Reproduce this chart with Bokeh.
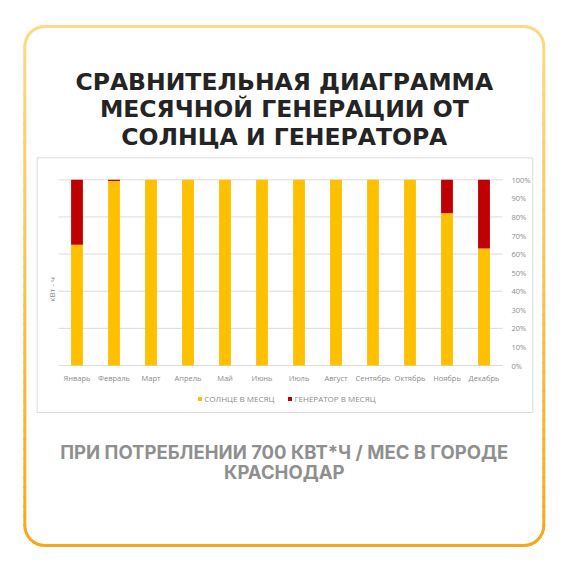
import numpy as np
from bokeh.plotting import figure
from bokeh.models import Range1d, Legend, LegendItem, ColumnDataSource
from bokeh.core.properties import value
from bokeh.embed import file_html
from bokeh.resources import INLINE

# monthly share of consumption (700 kWh / month), percent
months = ["Январь", "Февраль", "Март", "Апрель", "Май", "Июнь",
          "Июль", "Август", "Сентябрь", "Октябрь", "Ноябрь", "Декабрь"]
sun = [65, 99.4, 100, 100, 100, 100, 100, 100, 100, 100, 82, 63]
gen = [35, 0.6, 0, 0, 0, 0, 0, 0, 0, 0, 18, 37]
pct_ticks = [0, 10, 20, 30, 40, 50, 60, 70, 80, 90, 100]
grid_ticks = [0, 20, 40, 60, 80, 100]

series_names = ["СОЛНЦЕ В МЕСЯЦ", "ГЕНЕРАТОР В МЕСЯЦ"]
series_colors = ["#FFC000", "#C00000"]

title_lines = ["СРАВНИТЕЛЬНАЯ ДИАГРАММА",
               "МЕСЯЧНОЙ ГЕНЕРАЦИИ ОТ",
               "СОЛНЦА И ГЕНЕРАТОРА"]
sub_lines = ["ПРИ ПОТРЕБЛЕНИИ 700 КВТ*Ч / МЕС В ГОРОДЕ",
             "КРАСНОДАР"]
y_label = "кВт - ч"

W = H = 554
GREY = "#8C8C8C"
FONT = value("Open Sans")

# canvas pixels of the bar plot area
area_l, area_r, area_t, area_b = 58, 502, 179.3, 365

p = figure(width=W, height=H, x_range=Range1d(0, W), y_range=Range1d(H, 0),
           output_backend="svg", toolbar_location=None,
           x_axis_type=None, y_axis_type=None, min_border=0)
p.outline_line_color = None
p.grid.visible = False

# data ranges for the bar chart, mapped onto the plot area
n = len(months)
ux = (area_r - area_l) / n
uy = (area_b - area_t) / 100
p.extra_x_ranges = {"m": Range1d(-area_l / ux, (W - area_l) / ux)}
p.extra_y_ranges = {"pct": Range1d(-(H - area_b) / uy, area_b / uy)}

# card border with vertical gradient
l, r, t, b, rad = 24.3, 543.3, 26, 545, 20
pts = []
def add_line(x0, y0, x1, y1, k):
    for j in range(k):
        pts.append((x0 + (x1 - x0) * j / k, y0 + (y1 - y0) * j / k))
def add_arc(cx, cy, a0, a1, k):
    for j in range(k):
        a = a0 + (a1 - a0) * j / k
        pts.append((cx + rad * np.cos(a), cy + rad * np.sin(a)))
add_line(l + rad, t, r - rad, t, 4)
add_arc(r - rad, t + rad, -np.pi / 2, 0, 8)
add_line(r, t + rad, r, b - rad, 50)
add_arc(r - rad, b - rad, 0, np.pi / 2, 8)
add_line(r - rad, b, l + rad, b, 4)
add_arc(l + rad, b - rad, np.pi / 2, np.pi, 8)
add_line(l, b - rad, l, t + rad, 50)
add_arc(l + rad, t + rad, np.pi, 1.5 * np.pi, 8)
pts.append(pts[0])
top_c = np.array([253, 218, 135])
bot_c = np.array([247, 168, 24])
seg_x, seg_y, seg_c = [], [], []
for (x0, y0), (x1, y1) in zip(pts[:-1], pts[1:]):
    f = ((y0 + y1) / 2 - t) / (b - t)
    c = top_c + (bot_c - top_c) * f
    seg_x.append([x0, x1])
    seg_y.append([y0, y1])
    seg_c.append("#%02x%02x%02x" % tuple(int(round(v)) for v in c))
p.multi_line(seg_x, seg_y, line_color=seg_c, line_width=3, line_cap="round")

# chart box
p.quad(left=36.7, right=532.3, top=157.3, bottom=412, fill_color=None,
       line_color="#DCDCDC", line_width=1)

# grid lines
p.segment(x0=0, x1=n, y0=grid_ticks, y1=grid_ticks, line_color="#DCDCDC",
          line_width=1, x_range_name="m", y_range_name="pct")

# stacked bars
xs = np.arange(n) + 0.5
source = ColumnDataSource(data=dict(x=xs, sun=sun, gen=gen))
rs = p.vbar_stack(["sun", "gen"], x="x", width=0.32, source=source,
                  color=series_colors, line_color=None,
                  x_range_name="m", y_range_name="pct")

# category labels
p.text(x=xs, y=0, text=months, y_offset=7, text_align="center",
       text_baseline="top", text_font=FONT, text_font_size="7.5px",
       text_color=GREY, x_range_name="m", y_range_name="pct")
# percent labels on the right
p.text(x=n, y=pct_ticks, text=["%d%%" % v for v in pct_ticks], x_offset=9,
       text_align="left", text_baseline="middle", text_font=FONT,
       text_font_size="7.5px", text_color=GREY,
       x_range_name="m", y_range_name="pct")
# axis title
p.text(x=0, y=[41], text=[y_label], x_offset=-7.5, angle=np.pi / 2,
       text_align="center", text_baseline="middle", text_font=FONT,
       text_font_size="8px", text_color=GREY,
       x_range_name="m", y_range_name="pct")

legend = Legend(items=[LegendItem(label=nm, renderers=[rr])
                       for nm, rr in zip(series_names, rs)],
                orientation="horizontal", location=(197.3, 149.7),
                glyph_width=5, glyph_height=5, label_height=8,
                label_standoff=2, spacing=13, padding=0, margin=0,
                border_line_color=None, background_fill_alpha=0,
                label_text_font="Open Sans", label_text_font_size="8px",
                label_text_color=GREY)
p.add_layout(legend)

# title and subtitle
cx = (l + r) / 2
p.text(x=cx, y=[81.7 + 27.2 * i for i in range(len(title_lines))],
       text=title_lines, text_align="center", text_baseline="alphabetic",
       text_font=value("DejaVu Sans"), text_font_style="bold",
       text_font_size="23.5px", text_color="#242424")
p.text(x=cx, y=[451.7 + 20 * i for i in range(len(sub_lines))],
       text=sub_lines, text_align="center", text_baseline="alphabetic",
       text_font=value("Inter"), text_font_style="bold",
       text_font_size="18.5px", text_color="#8F8F8F")

open("out.html", "w").write(file_html(p, INLINE))
